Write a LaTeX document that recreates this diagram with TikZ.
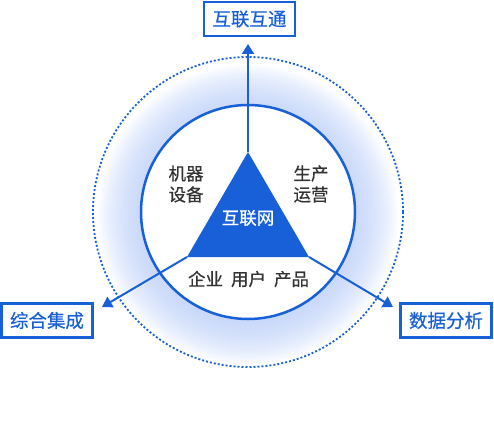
\documentclass[tikz,border=0pt]{standalone}
\usepackage{fontspec}
\setmainfont{Noto Sans CJK SC}[FakeBold=0.5]
\usetikzlibrary{arrows.meta}
\definecolor{netblue}{RGB}{24,96,216}
\definecolor{glowblue}{RGB}{180,202,248}
\definecolor{txtgray}{RGB}{51,51,51}
\tikzset{
  tagbox/.style={draw=netblue, line width=2.5pt, fill=white, text=netblue, minimum width=91pt, minimum height=34pt, inner sep=0pt, font=\fontsize{18.5}{20}\selectfont},
  innertext/.style={text=txtgray, align=center, font=\fontsize{17.5}{21}\selectfont},
  link/.style={draw=netblue, line width=2pt, -{Triangle[length=10pt,width=12pt]}}
}

\begin{document}
\begin{tikzpicture}[x=1pt,y=1pt]
\useasboundingbox (0,0) rectangle (494,421);
\foreach \r in {108,110,...,150}
  \fill[glowblue, fill opacity=0.055] (248,206) circle (\r);
\draw[netblue, line width=1.8pt, dash pattern=on 2pt off 2pt] (248,209) circle (155);
\fill[white] (248,209) circle (107);
\draw[netblue, line width=2.5pt] (248,209) circle (107);
\coordinate (apex) at (248,269);
\coordinate (baseleft) at (187,164);
\coordinate (baseright) at (309,164);
\coordinate (topend) at (248,377);
\coordinate (leftend) at (102,114);
\coordinate (rightend) at (393,114);
\draw[link] (apex) -- (topend);
\draw[link] (baseleft) -- (leftend);
\draw[link] (baseright) -- (rightend);
\fill[netblue] (apex) -- (baseleft) -- (baseright) -- cycle;
\node[tagbox] (interop) at (249.5,402) {互联互通};
\node[tagbox] (integrate) at (47,100.5) {综合集成};
\node[tagbox] (analysis) at (446,100.5) {数据分析};
\node[innertext] (machine) at (186,237) {机器\\设备};
\node[innertext] (operate) at (311,237) {生产\\运营};
\node[innertext, text=white] (internet) at (248,203) {互联网};
\node[innertext] (users) at (248.5,142) {企业\hspace{8pt}用户\hspace{8pt}产品};
\end{tikzpicture}
\end{document}
